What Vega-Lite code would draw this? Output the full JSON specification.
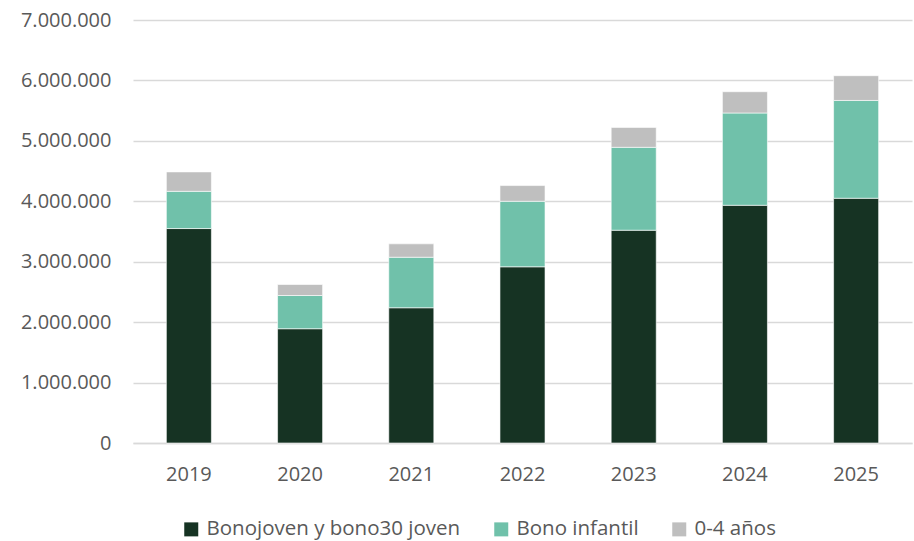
{
  "$schema": "https://vega.github.io/schema/vega-lite/v6.json",
  "width": 779,
  "height": 423,
  "autosize": {"type": "none"},
  "padding": {"left": 133, "top": 20, "right": 2, "bottom": 98},
  "background": "white",
  "config": {
    "view": {"stroke": null},
    "font": "Open Sans",
    "locale": {"number": {"decimal": ",", "thousands": ".", "grouping": [3], "currency": ["", " €"]}}
  },
  "data": {
    "values": [
      {"anio": "2019", "serie": "Bonojoven y bono30 joven", "orden": 1, "valor": 3549000},
      {"anio": "2019", "serie": "Bono infantil", "orden": 2, "valor": 616000},
      {"anio": "2019", "serie": "0-4 años", "orden": 3, "valor": 321000},
      {"anio": "2020", "serie": "Bonojoven y bono30 joven", "orden": 1, "valor": 1891000},
      {"anio": "2020", "serie": "Bono infantil", "orden": 2, "valor": 550000},
      {"anio": "2020", "serie": "0-4 años", "orden": 3, "valor": 182000},
      {"anio": "2021", "serie": "Bonojoven y bono30 joven", "orden": 1, "valor": 2238000},
      {"anio": "2021", "serie": "Bono infantil", "orden": 2, "valor": 836000},
      {"anio": "2021", "serie": "0-4 años", "orden": 3, "valor": 222000},
      {"anio": "2022", "serie": "Bonojoven y bono30 joven", "orden": 1, "valor": 2916000},
      {"anio": "2022", "serie": "Bono infantil", "orden": 2, "valor": 1084000},
      {"anio": "2022", "serie": "0-4 años", "orden": 3, "valor": 260000},
      {"anio": "2023", "serie": "Bonojoven y bono30 joven", "orden": 1, "valor": 3521000},
      {"anio": "2023", "serie": "Bono infantil", "orden": 2, "valor": 1372000},
      {"anio": "2023", "serie": "0-4 años", "orden": 3, "valor": 330000},
      {"anio": "2024", "serie": "Bonojoven y bono30 joven", "orden": 1, "valor": 3934000},
      {"anio": "2024", "serie": "Bono infantil", "orden": 2, "valor": 1527000},
      {"anio": "2024", "serie": "0-4 años", "orden": 3, "valor": 352000},
      {"anio": "2025", "serie": "Bonojoven y bono30 joven", "orden": 1, "valor": 4050000},
      {"anio": "2025", "serie": "Bono infantil", "orden": 2, "valor": 1619000},
      {"anio": "2025", "serie": "0-4 años", "orden": 3, "valor": 409000}
    ]
  },
  "mark": {"type": "bar", "stroke": "white", "strokeWidth": 0.6},
  "encoding": {
    "x": {
      "field": "anio",
      "type": "ordinal",
      "scale": {"paddingInner": 0.595, "paddingOuter": 0.3},
      "axis": {
        "title": null,
        "labelAngle": 0,
        "labelFontSize": 20,
        "labelColor": "#595959",
        "labelPadding": 21,
        "ticks": false,
        "domainColor": "#D9D9D9",
        "domainWidth": 1.5
      }
    },
    "y": {
      "field": "valor",
      "type": "quantitative",
      "aggregate": "sum",
      "stack": "zero",
      "scale": {"domain": [0, 7000000], "nice": false},
      "axis": {
        "title": null,
        "values": [0, 1000000, 2000000, 3000000, 4000000, 5000000, 6000000, 7000000],
        "format": ",d",
        "labelFontSize": 20,
        "labelColor": "#595959",
        "labelPadding": 22,
        "ticks": false,
        "domain": false,
        "gridColor": "#D9D9D9",
        "gridWidth": 1.5
      }
    },
    "color": {
      "field": "serie",
      "type": "nominal",
      "scale": {
        "domain": ["Bonojoven y bono30 joven", "Bono infantil", "0-4 años"],
        "range": ["#163323", "#70C1AA", "#BFBFBF"]
      },
      "legend": {
        "title": null,
        "orient": "none",
        "direction": "horizontal",
        "legendX": 48,
        "legendY": 499,
        "symbolType": "square",
        "symbolSize": 196,
        "symbolStrokeWidth": 0,
        "labelFontSize": 20.5,
        "labelLimit": 500,
        "labelColor": "#595959",
        "labelOffset": 5,
        "columnPadding": 30
      }
    },
    "order": {"field": "orden", "type": "quantitative", "sort": "ascending"}
  }
}
